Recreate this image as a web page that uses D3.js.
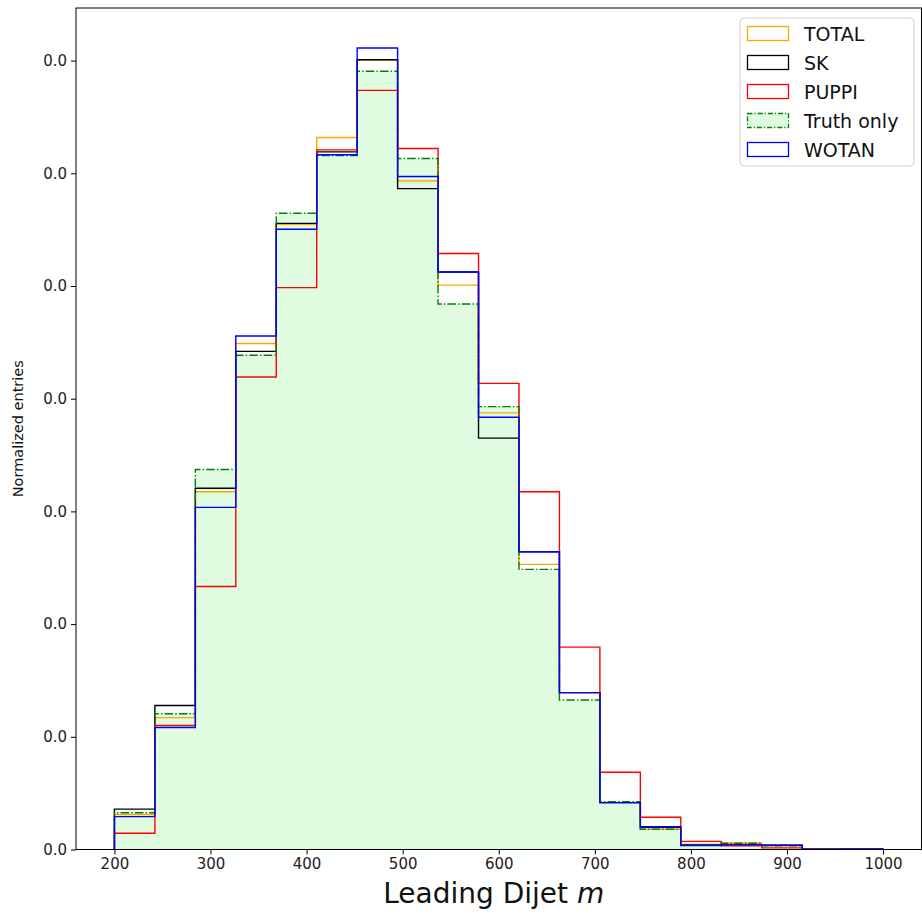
<!DOCTYPE html>
<html>
<head>
<meta charset="utf-8">
<script src="https://cdn.jsdelivr.net/npm/d3@7"></script>
<style>
  html, body { margin: 0; padding: 0; background: #fff; }
  svg { display: block; font-family: "DejaVu Sans", sans-serif; }
</style>
</head>
<body>
<svg id="chart" width="922" height="922"></svg>
<script>
// ---- Data ----
const binStart = 200, binEnd = 1000, nBins = 19;
const binEdges = d3.range(nBins + 1).map(i => binStart + i * (binEnd - binStart) / nBins);

const seriesNames = ["TOTAL", "SK", "PUPPI", "Truth only", "WOTAN"];
// density values (units of 1e-4)
const total = [1.55, 5.85, 15.87, 22.45, 27.74, 31.59, 35.02, 29.66, 25.04, 19.37, 12.65, 6.96, 2.08, 0.90, 0.24, 0.29, 0.18, 0.02, 0.01];
const sk    = [1.79, 6.39, 16.03, 22.10, 27.78, 30.95, 35.04, 29.32, 25.62, 18.25, 13.21, 6.96, 2.08, 0.99, 0.20, 0.21, 0.19, 0.01, 0.01];
const puppi = [0.72, 5.50, 11.67, 20.96, 24.93, 31.04, 33.68, 31.10, 26.44, 20.68, 15.87, 8.98, 3.43, 1.43, 0.36, 0.16, 0.07, 0.01, 0.005];
const truth = [1.63, 6.02, 16.86, 21.93, 28.23, 30.79, 34.53, 30.66, 24.20, 19.65, 12.43, 6.63, 2.12, 0.90, 0.20, 0.28, 0.16, 0.01, 0.0];
const wotan = [1.46, 5.41, 15.18, 22.78, 27.52, 30.82, 35.56, 29.86, 25.62, 19.18, 13.21, 6.96, 2.08, 1.01, 0.18, 0.21, 0.19, 0.01, 0.02];
const valueScale = 1e-4;

const xTicks = [200, 300, 400, 500, 600, 700, 800, 900, 1000];
const yTicks = [0, 0.0005, 0.001, 0.0015, 0.002, 0.0025, 0.003, 0.0035];

// ---- Layout ----
const svg = d3.select("#chart");
const L = 76, R = 921.5, T = 8, B = 849.5;

const x = d3.scaleLinear().domain([160, 1040]).range([L, R]);
const yMax = 0.0035556 * 1.05;
const y = d3.scaleLinear().domain([0, yMax]).range([B, T]);

function stepPoints(vals) {
  const pts = [[binEdges[0], 0]];
  vals.forEach((v, i) => {
    pts.push([binEdges[i], v * valueScale]);
    pts.push([binEdges[i + 1], v * valueScale]);
  });
  pts.push([binEdges[binEdges.length - 1], 0]);
  return pts;
}
const line = d3.line().x(d => x(d[0])).y(d => y(d[1]));

const clipId = "clip";
svg.append("defs").append("clipPath").attr("id", clipId)
  .append("rect").attr("x", L).attr("y", T).attr("width", R - L).attr("height", B - T);
const plot = svg.append("g").attr("clip-path", `url(#${clipId})`);

const fillColor = "#e0fce0";
const lw = 1.4;
const dashTruth = "8.5,2.2,1.4,2.2";

// Truth fill first
plot.append("path").datum(stepPoints(truth))
  .attr("d", d => line(d) + "Z")
  .attr("fill", fillColor).attr("stroke", "none");

const styles = [
  { vals: total, color: "#ffa500", dash: null },
  { vals: sk, color: "#000000", dash: null },
  { vals: puppi, color: "#ff0000", dash: null },
  { vals: truth, color: "#008000", dash: dashTruth },
  { vals: wotan, color: "#0000ff", dash: null }
];
styles.forEach(s => {
  plot.append("path").datum(stepPoints(s.vals))
    .attr("d", line)
    .attr("fill", "none")
    .attr("stroke", s.color)
    .attr("stroke-width", lw)
    .attr("stroke-dasharray", s.dash);
});

// ---- Axes ----
const xAxis = d3.axisBottom(x).tickValues(xTicks).tickSize(5).tickPadding(4).tickFormat(d3.format("d"));
const yAxis = d3.axisLeft(y).tickValues(yTicks).tickSize(5).tickPadding(4).tickFormat(d3.format(".1f"));

const gx = svg.append("g").attr("transform", `translate(0,${B})`).call(xAxis);
const gy = svg.append("g").attr("transform", `translate(${L},0)`).call(yAxis);
[gx, gy].forEach(g => {
  g.select(".domain").remove();
  g.selectAll("text").attr("font-size", 15).attr("font-family", "DejaVu Sans, sans-serif").attr("fill", "#222");
  g.selectAll("line").attr("stroke", "#000").attr("stroke-width", 1);
});

// spines
svg.append("rect").attr("x", L).attr("y", T).attr("width", R - L).attr("height", B - T)
  .attr("fill", "none").attr("stroke", "#000").attr("stroke-width", 1);

// labels
svg.append("text").attr("x", (L + R) / 2 - 5).attr("y", 903)
  .attr("text-anchor", "middle").attr("font-size", 28).attr("fill", "#111")
  .html('Leading Dijet <tspan font-style="italic">m</tspan>');

svg.append("text")
  .attr("transform", `translate(23,${(T + B) / 2}) rotate(-90)`)
  .attr("text-anchor", "middle").attr("font-size", 14.5).attr("fill", "#111")
  .text("Normalized entries");

// ---- Legend ----
const lg = svg.append("g");
lg.append("rect").attr("x", 740).attr("y", 18).attr("width", 174).attr("height", 148)
  .attr("rx", 4).attr("fill", "#fff").attr("fill-opacity", 0.8)
  .attr("stroke", "#d0d0d0").attr("stroke-width", 1);
const legendItems = [
  { name: seriesNames[0], color: "#ffa500", fill: "none", dash: null },
  { name: seriesNames[1], color: "#000000", fill: "none", dash: null },
  { name: seriesNames[2], color: "#ff0000", fill: "none", dash: null },
  { name: seriesNames[3], color: "#008000", fill: fillColor, dash: "5,2,1.2,2" },
  { name: seriesNames[4], color: "#0000ff", fill: "none", dash: null }
];
const rowY = d3.scaleLinear().domain([0, 4]).range([33.5, 149.5]);
legendItems.forEach((it, i) => {
  const cy = rowY(i);
  lg.append("rect").attr("x", 747.5).attr("y", cy - 7).attr("width", 41).attr("height", 14)
    .attr("fill", it.fill).attr("stroke", it.color).attr("stroke-width", 1.3)
    .attr("stroke-dasharray", it.dash);
  lg.append("text").attr("x", 804).attr("y", cy + 7)
    .attr("font-size", 19).attr("fill", "#111").text(it.name);
});
</script>
</body>
</html>
